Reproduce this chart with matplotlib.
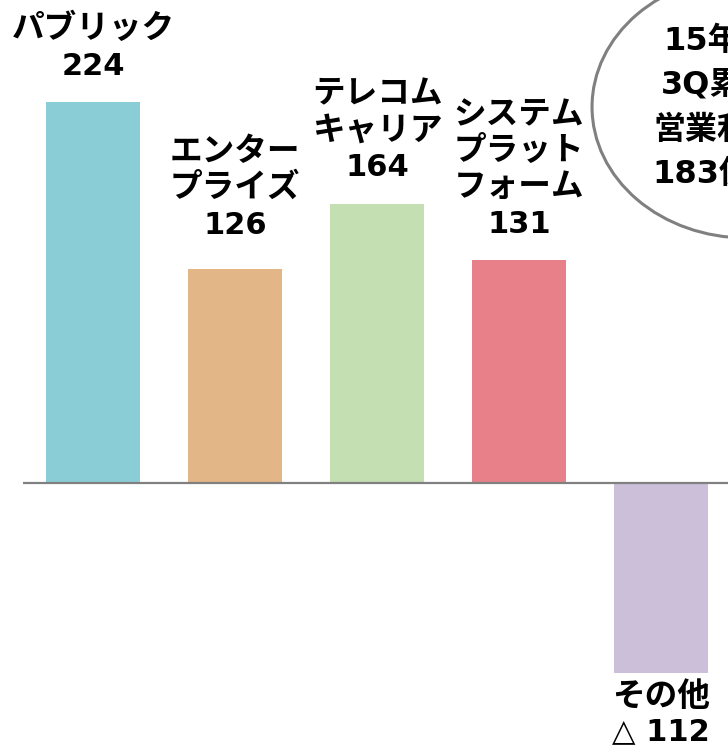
import matplotlib.pyplot as plt
from matplotlib.patches import Ellipse

plt.rcParams['font.family'] = ['DejaVu Sans', 'Noto Sans CJK JP']

# =====================================================
# DATA
# =====================================================

segments = ['パブリック', 'エンター\nプライズ', 'テレコム\nキャリア',
            'システム\nプラット\nフォーム', 'その他']
profits = [224, 126, 164, 131, -112]
bar_colors = ['#8ACDD6', '#E3B687', '#C4DFB1', '#E8808A', '#CCBFDA']
total_text = '15年度\n3Q累計\n営業利益\n183億円'

# =====================================================
# FIGURE (axes fill the whole canvas)
# =====================================================

fig = plt.figure(figsize=(7.28, 7.48), dpi=100)
ax = fig.add_axes([0, 0, 1, 1])
ax.set_xlim(-0.655, 4.472)
ax.set_ylim(-155.9, 284.1)
ax.axis('off')

x = list(range(len(segments)))
ax.bar(x, profits, width=0.662, color=bar_colors, zorder=2)

# zero line
ax.plot([-0.493, 4.6], [0, 0], color='#808080', lw=1.6, zorder=3,
        solid_capstyle='butt')

# value labels: segment name (katakana a bit larger) over the number
gaps = [27, 35, 28, 27]
line_h = 37
for i, (name, v) in enumerate(zip(segments, profits)):
    if v >= 0:
        ax.annotate(str(v), (i, v), xytext=(0, gaps[i]),
                    textcoords='offset pixels', ha='center', va='baseline',
                    fontsize=22, fontweight='bold')
        ax.annotate(name, (i, v), xytext=(0, gaps[i] + line_h),
                    textcoords='offset pixels', ha='center', va='baseline',
                    fontsize=23.5, fontweight='bold', linespacing=1.12)
    else:
        ax.annotate(name, (i, v), xytext=(0, -33),
                    textcoords='offset pixels', ha='center', va='baseline',
                    fontsize=23.5, fontweight='bold')
        ax.annotate(f'△ {abs(v)}', (i, v), xytext=(0, -67),
                    textcoords='offset pixels', ha='center', va='baseline',
                    fontsize=22, fontweight='bold')

# total bubble
bubble = Ellipse((4.599, 221.2), 2.169, 154.1, facecolor='white',
                 edgecolor='#808080', lw=2.2, zorder=4, clip_on=False)
ax.add_patch(bubble)
ax.text(4.40, 220.4, total_text, ha='center', va='center',
        fontsize=23, fontweight='bold', linespacing=1.55, zorder=5)

plt.savefig('out.png', dpi=100)
plt.close()
